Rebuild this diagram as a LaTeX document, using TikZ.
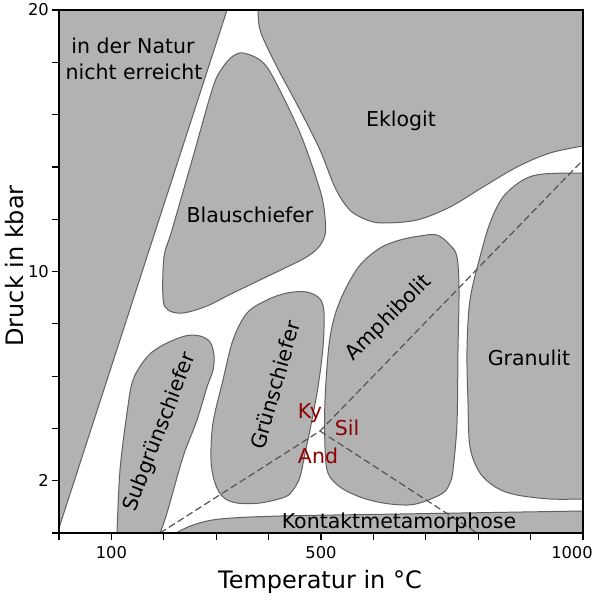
\documentclass[tikz,border=0pt]{standalone}
\usepackage{fontspec}
\setmainfont{DejaVu Sans}
\definecolor{regfill}{gray}{0.70}
\definecolor{regline}{gray}{0.38}
\definecolor{dashgray}{gray}{0.33}
\definecolor{alred}{rgb}{0.55,0,0}
\begin{document}
\begin{tikzpicture}[x=1pt,y=-1pt,
  region/.style={fill=regfill,draw=regline,line width=1pt},
  lbl/.style={font=\fontsize{20.5}{24}\selectfont,inner sep=0pt},
  allbl/.style={lbl,text=alred},
  ticklbl/.style={font=\fontsize{16.3}{19}\selectfont,inner sep=0pt},
  axlbl/.style={font=\fontsize{24}{28}\selectfont,inner sep=0pt},
  phase/.style={draw=dashgray,line width=1.2pt,dash pattern=on 7pt off 3.5pt},
  frameline/.style={draw=black,line width=1.6pt},
  tickline/.style={draw=black,line width=1.2pt}]
\useasboundingbox (0,0) rectangle (600,600);
% regions
\path[region] (59,10) -- (227,10) -- (59,528) -- cycle;
\path[region] plot[smooth,tension=0.55] coordinates {(258,10) (259,25) (263,38) (277,67) (300,110) (320,150) (333,183) (342,200) (352,212) (367,220) (383,223) (417,220) (450,207) (483,187) (517,167) (550,153) (583,146)} -- (583,10) -- cycle;
\path[region] plot[smooth cycle,tension=0.55] coordinates {(243,53) (260,60) (273,77) (300,133) (320,190) (325,217) (325,235) (318,248) (305,258) (287,267) (233,293) (207,306) (183,313) (168,310) (163,298) (164,257) (172,230) (193,157) (213,87) (223,67) (233,56)};
\path[region] plot[smooth,tension=0.55] coordinates {(160,533) (167,513) (183,457) (197,420) (207,387) (213,370) (214,355) (210,342) (200,336) (185,336) (163,345) (147,357) (133,380) (127,413) (120,470) (117,533)} -- cycle;
\path[region] plot[smooth cycle,tension=0.55] coordinates {(287,293) (307,292) (320,299) (324,313) (323,347) (318,387) (310,430) (305,453) (300,477) (293,490) (285,497) (260,503) (237,503) (223,497) (215,483) (211,460) (213,423) (223,380) (233,340) (247,313) (267,300)};
\path[region] plot[smooth cycle,tension=0.55] coordinates {(437,235) (450,245) (457,257) (459,290) (458,350) (457,423) (453,470) (450,483) (443,493) (423,502) (407,505) (383,503) (360,497) (340,487) (328,473) (325,447) (325,400) (329,345) (335,315) (345,290) (360,265) (380,248) (400,240) (420,236)};
\path[region] plot[smooth,tension=0.55] coordinates {(583,173) (543,174) (523,180) (503,197) (490,223) (480,257) (470,300) (467,350) (468,403) (470,447) (480,473) (497,488) (517,495) (550,499) (583,499)} -- cycle;
\path[region] plot[smooth,tension=0.55] coordinates {(176,533) (193,525) (220,519) (280,516) (400,514) (583,511)} -- (583,533) -- cycle;
% phase boundaries Al2SiO5
\coordinate (tp) at (320,431);
\coordinate (kyand) at (160,533);
\coordinate (kysil) at (583,160);
\coordinate (andsil) at (477,533);
\draw[phase] (kyand) -- (tp) -- (kysil);
\draw[phase] (tp) -- (andsil);
% labels
\node[lbl] (natur1) at (133,46) {in der Natur};
\node[lbl] (natur2) at (134,72) {nicht erreicht};
\node[lbl] (eklogit) at (401,121) {Eklogit};
\node[lbl] (blau) at (250,215) {Blauschiefer};
\node[lbl,rotate=69] (subgr) at (160,432) {Subgrünschiefer};
\node[lbl,rotate=74] (gruen) at (275,385) {Grünschiefer};
\node[lbl,rotate=45] (amph) at (389,318) {Amphibolit};
\node[lbl] (granulit) at (529,358) {Granulit};
\node[lbl] (kontakt) at (399,523) {Kontaktmetamorphose};
\node[allbl] (ky) at (310,413) {Ky};
\node[allbl] (sil) at (347,428) {Sil};
\node[allbl] (and) at (318,456) {And};
% frame and ticks
\draw[frameline] (59,10) rectangle (583,533);
\foreach \i in {0,...,10} {
  \draw[tickline] (59+52.4*\i,533) -- (59+52.4*\i,540);
  \draw[tickline] (59,533-52.3*\i) -- (52,533-52.3*\i);
}
\node[ticklbl] (t100) at (111.4,553) {100};
\node[ticklbl] (t500) at (321,553) {500};
\node[ticklbl] (t1000) at (572,553) {1000};
\node[ticklbl,anchor=east] (p20) at (49,10) {20};
\node[ticklbl,anchor=east] (p10) at (49,271.5) {10};
\node[ticklbl,anchor=east] (p2) at (49,480.7) {2};
\node[axlbl] (xlab) at (320,582) {Temperatur in °C};
\node[axlbl,rotate=90] (ylab) at (15,266) {Druck in kbar};
\end{tikzpicture}
\end{document}
